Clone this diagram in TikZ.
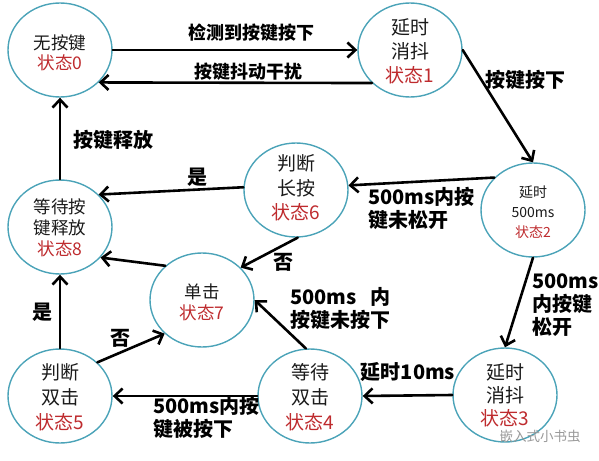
\documentclass[tikz,border=0pt]{standalone}
\usepackage{fontspec}
\setmainfont{Noto Sans CJK SC}
\usetikzlibrary{shapes.geometric,arrows.meta}
\definecolor{statering}{HTML}{4BA3B8}
\definecolor{statered}{HTML}{BE2B2E}
\definecolor{inkblack}{HTML}{1A1A1A}

\begin{document}
\begin{tikzpicture}[x=1pt,y=-1pt,line cap=round,line join=round,
  state/.style={ellipse,draw=statering,line width=1.4pt,minimum width=104pt,minimum height=94pt,inner sep=0pt},
  stxt/.style={align=center,inner sep=0pt,text=inkblack},
  lab/.style={font=\fontsize{20}{23}\selectfont\bfseries,align=left,inner sep=0pt},
  trans/.style={line width=2.6pt,-{Straight Barb[length=8pt,width=15pt]}}]
  \useasboundingbox (0,0) rectangle (599,460);
  % states
  \foreach \name/\x/\y in {s0/60/50,s1/410/50,s2/533/210,s3/505/395,s4/310/396,s5/60/396,s6/296/190,s7/202/300,s8/60/227}{
    \node[state] (\name) at (\x,\y) {};
  }
  \node[stxt,font=\fontsize{17.5}{20.5}\selectfont] (t0) at (60,53) {无按键\\\textcolor{statered}{状态0}};
  \node[stxt,font=\fontsize{19}{24}\selectfont] (t1) at (410,51) {延时\\消抖\\\textcolor{statered}{状态1}};
  \node[stxt,font=\fontsize{14}{20}\selectfont] (t2) at (533,212) {延时\\500ms\\\textcolor{statered}{状态2}};
  \node[stxt,font=\fontsize{19}{23}\selectfont] (t3) at (505,395) {延时\\消抖\\\textcolor{statered}{状态3}};
  \node[stxt,font=\fontsize{19}{25}\selectfont] (t4) at (310,397) {等待\\双击\\\textcolor{statered}{状态4}};
  \node[stxt,font=\fontsize{19}{25}\selectfont] (t5) at (60,397) {判断\\双击\\\textcolor{statered}{状态5}};
  \node[stxt,font=\fontsize{19}{24.5}\selectfont] (t6) at (296,188) {判断\\长按\\\textcolor{statered}{状态6}};
  \node[stxt,font=\fontsize{17.5}{21}\selectfont] (t7) at (202,302) {单击\\\textcolor{statered}{状态7}};
  \node[stxt,font=\fontsize{17.5}{21}\selectfont] (t8) at (60,228) {等待按\\键释放\\\textcolor{statered}{状态8}};
  % transitions
  \draw[trans] (s0.east) -- (s1.west);
  \draw[trans] (s1.221) -- (s0.-40);
  \draw[trans] (s1.east) -- (s2.north);
  \draw[trans] (s2.140) -- (s6.5);
  \draw[trans] (s6.177) -- (s8.40);
  \draw[trans] (s6.-88) -- (s7.40);
  \draw[trans] (s7.137) -- (s8.-37);
  \draw[trans] (s8.north) -- (s0.south);
  \draw[trans] (s2.south) -- (s3.north);
  \draw[trans] (s3.west) -- (s4.east);
  \draw[trans] (s4.95) -- (s7.east);
  \draw[trans] (s4.west) -- (s5.east);
  \draw[trans] (s5.42) -- (s7.222);
  \draw[trans] (s5.north) -- (s8.south);
  % labels
  \node[lab,font=\fontsize{18}{21}\selectfont\bfseries] (l01) at (251,33) {检测到按键按下};
  \node[lab,font=\fontsize{18}{21}\selectfont\bfseries] (l10) at (248,72) {按键抖动干扰};
  \node[lab] (l12) at (525,80) {按键按下};
  \node[lab] (l80) at (113,140) {按键释放};
  \node[lab] (l68) at (197,177) {是};
  \node[lab,anchor=west] (l26) at (368,208.5) {500ms内按\\键未松开};
  \node[lab] (l67) at (283,262) {否};
  \node[lab,anchor=west] (l47) at (290,308.5) {500ms\hspace{14pt}内\\按键未按下};
  \node[lab,anchor=west] (l23) at (532,305) {500ms\\内按键\\松开};
  \node[lab] (l34) at (408,372) {延时10ms};
  \node[lab,anchor=west] (l45) at (153,417.5) {500ms内按\\键被按下};
  \node[lab] (l57) at (120,338) {否};
  \node[lab] (l58) at (42,312) {是};
  \node[font=\fontsize{13.5}{16}\selectfont,text=black!40,inner sep=0pt] (wm) at (540,436) {嵌入式小书虫};
\end{tikzpicture}
\end{document}
